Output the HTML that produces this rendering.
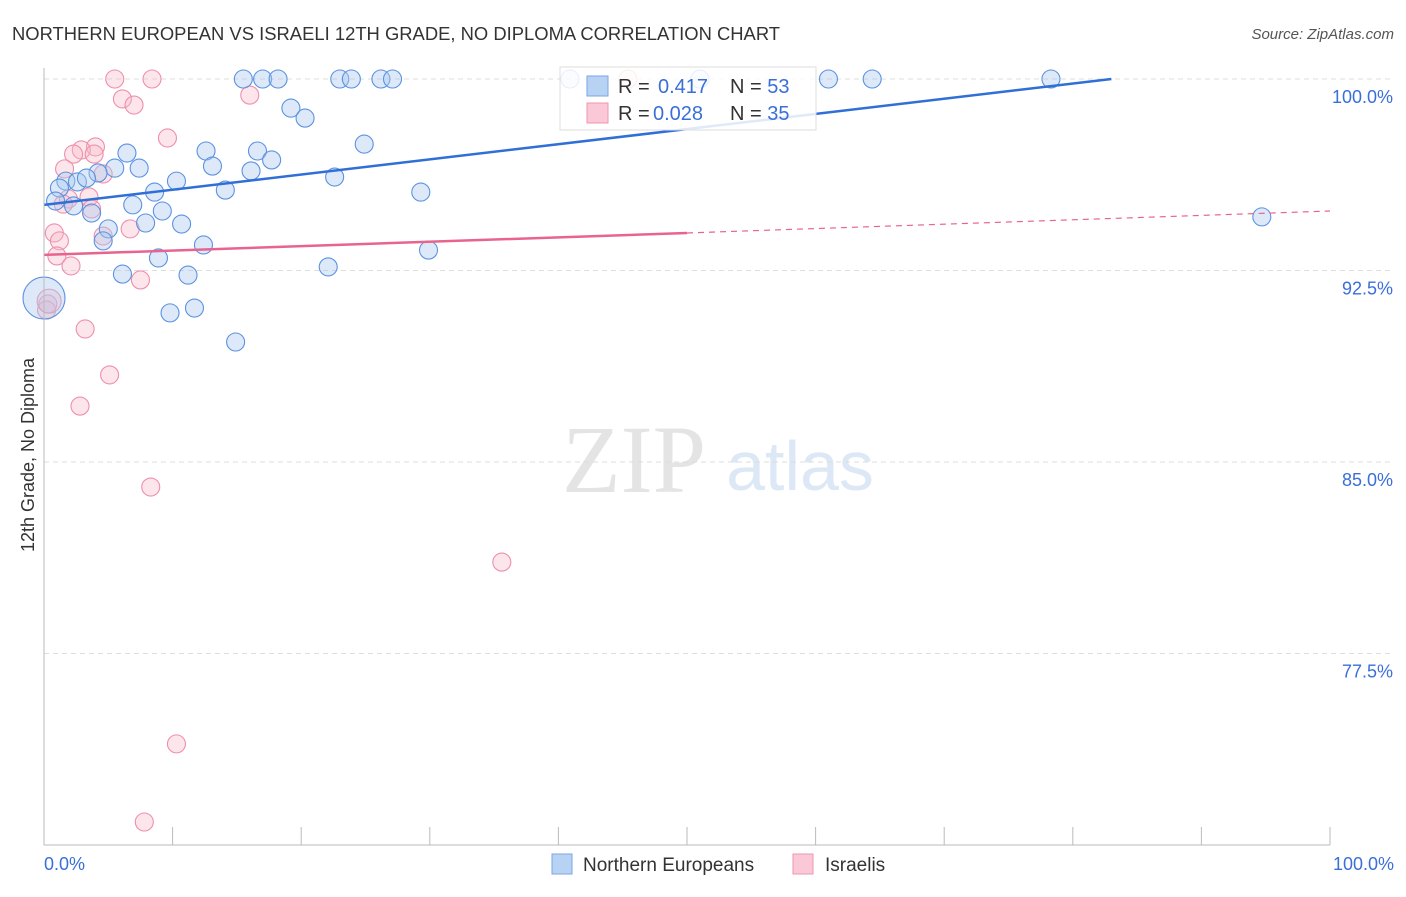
<!DOCTYPE html>
<html><head><meta charset="utf-8"><style>
body{margin:0;background:#fff;font-family:"Liberation Sans",sans-serif}
</style></head><body>
<svg id="c" width="1406" height="892" xmlns="http://www.w3.org/2000/svg">
<text x="12" y="40" font-size="18.4" fill="#333" textLength="768">NORTHERN EUROPEAN VS ISRAELI 12TH GRADE, NO DIPLOMA CORRELATION CHART</text>
<text x="1394" y="39" font-size="15" fill="#555" text-anchor="end" font-style="italic">Source: ZipAtlas.com</text>
<text x="634" y="492" font-size="96" fill="#e4e4e4" font-family="Liberation Serif,serif" text-anchor="middle">ZIP</text>
<text x="800" y="490" font-size="70" fill="#dde8f6" text-anchor="middle">atlas</text>
<text transform="translate(34,455) rotate(-90)" font-size="18" fill="#333" text-anchor="middle">12th Grade, No Diploma</text>
<g id="grid"></g><g id="pts"></g><g id="lines"></g>
<line x1="44" y1="68" x2="44" y2="845" stroke="#bbb"/>
<line x1="44" y1="845" x2="1330" y2="845" stroke="#bbb"/>
<text x="44" y="870" font-size="18" fill="#3a6fd8">0.0%</text>
<text x="1394" y="870" font-size="18" fill="#3a6fd8" text-anchor="end">100.0%</text>
<g>
<rect x="560" y="67" width="256" height="63" fill="#fff" fill-opacity="0.85" stroke="#ddd"/>
<rect x="587" y="76" width="21" height="20" fill="#b8d2f4" stroke="#7aa6e6"/>
<rect x="587" y="103" width="21" height="20" fill="#fac8d6" stroke="#f096b0"/>
<text x="618" y="93" font-size="20" fill="#333">R = <tspan x="658" fill="#3a6fd8">0.417</tspan><tspan x="730">N = </tspan><tspan fill="#3a6fd8">53</tspan></text>
<text x="618" y="120" font-size="20" fill="#333">R = <tspan x="653" fill="#3a6fd8">0.028</tspan><tspan x="730">N = </tspan><tspan fill="#3a6fd8">35</tspan></text>
</g>
<g><rect x="552" y="854" width="20" height="20" fill="#b8d2f4" stroke="#7aa6e6"/><text x="583" y="871" font-size="19" fill="#333">Northern Europeans</text></g>
<g><rect x="793" y="854" width="20" height="20" fill="#fac8d6" stroke="#f096b0"/><text x="825" y="871" font-size="19" fill="#333">Israelis</text></g>
</svg>
<script>
const yTicks=[100,92.5,85,77.5];
const yTickLabels=["100.0%","92.5%","85.0%","77.5%"];
const xTicks=[0,10,20,30,40,50,60,70,80,90,100];
const blueX=[15.5,17.0,18.2,23.0,23.9,26.2,27.1,40.9,51.0,61.0,64.4,78.3,19.2,20.3,24.9,12.6,16.6,6.45,17.7,13.1,5.5,7.4,16.1,4.2,22.6,1.7,2.6,3.3,10.3,1.2,8.6,14.1,29.3,0.9,6.9,2.3,9.2,3.7,7.9,10.7,5.0,4.6,12.4,29.9,8.9,22.1,6.1,11.2,11.7,9.8,14.9,94.7,0.0];
const blueY=[100,100,100,100,100,100,100,100,100,100,100,100,98.86,98.47,97.45,97.18,97.18,97.10,96.83,96.59,96.51,96.51,96.40,96.32,96.16,96.00,95.97,96.12,96.00,95.73,95.57,95.65,95.57,95.22,95.07,95.03,94.83,94.75,94.36,94.32,94.13,93.66,93.50,93.30,92.99,92.64,92.36,92.32,91.03,90.84,89.70,94.60,91.42];
const pinkX=[5.5,8.4,45.4,6.1,7.0,16.0,9.6,4.0,2.9,2.3,3.9,1.6,4.6,1.9,3.5,1.5,3.7,6.7,4.6,0.8,1.2,1.0,2.1,7.5,0.3,0.2,3.2,5.1,2.8,8.3,35.6,10.3,7.8,0.4];
const pinkY=[100,100,100,99.22,98.98,99.37,97.69,97.34,97.22,97.06,97.06,96.48,96.28,95.30,95.38,95.10,94.91,94.13,93.85,93.97,93.66,93.07,92.68,92.13,91.19,90.95,90.21,88.41,87.19,84.02,81.08,73.96,70.90,91.3];
const blueLine=[0,95.07,83,100];
const pinkLine=[0,93.11,50,93.97,100,94.83];
const NS="http://www.w3.org/2000/svg";
const sx=v=>44+v*12.86, sy=v=>79+(100-v)*25.533;
function mk(t,a,p){const e=document.createElementNS(NS,t);for(const k in a)e.setAttribute(k,a[k]);p.appendChild(e);return e;}
const grid=document.getElementById('grid');
yTicks.forEach((t,i)=>{
 const l=mk('line',{x1:44,x2:1394,y1:sy(t),y2:sy(t),stroke:'#ddd','stroke-dasharray':'5,4'},grid);
 
 
 const tx=mk('text',{x:1393,y:sy(t)+24,'font-size':18,fill:'#3a6fd8','text-anchor':'end'},grid);
 tx.textContent=yTickLabels[i];
 
 
});
xTicks.forEach(t=>{
 const l=mk('line',{x1:sx(t),x2:sx(t),y1:827,y2:845,stroke:'#bbb'},grid);
 
 
});
const pts=document.getElementById('pts');
pinkX.forEach((x,i)=>{
 const c=mk('circle',{cx:sx(x),cy:sy(pinkY[i]),r:i==pinkX.length-1?12:9,fill:'#f7b6c9','fill-opacity':0.35,stroke:'#ee8fab','stroke-width':1.1},pts);
 
 
});
blueX.forEach((x,i)=>{
 const c=mk('circle',{cx:sx(x),cy:sy(blueY[i]),r:i==blueX.length-1?21:9,fill:'#a9c8f0','fill-opacity':0.4,stroke:'#5b92e0','stroke-width':1.1},pts);
 
 
});
const ln=document.getElementById('lines');
const b=mk('line',{x1:sx(blueLine[0]),y1:sy(blueLine[1]),x2:sx(blueLine[2]),y2:sy(blueLine[3]),stroke:'#2f6fd6','stroke-width':2.5},ln);


const p=mk('line',{x1:sx(pinkLine[0]),y1:sy(pinkLine[1]),x2:sx(pinkLine[2]),y2:sy(pinkLine[3]),stroke:'#e8648e','stroke-width':2.5},ln);


const pd=mk('line',{x1:sx(pinkLine[2]),y1:sy(pinkLine[3]),x2:sx(pinkLine[4]),y2:sy(pinkLine[5]),stroke:'#e8648e','stroke-width':1.2,'stroke-dasharray':'6,5'},ln);


</script>
</body></html>
